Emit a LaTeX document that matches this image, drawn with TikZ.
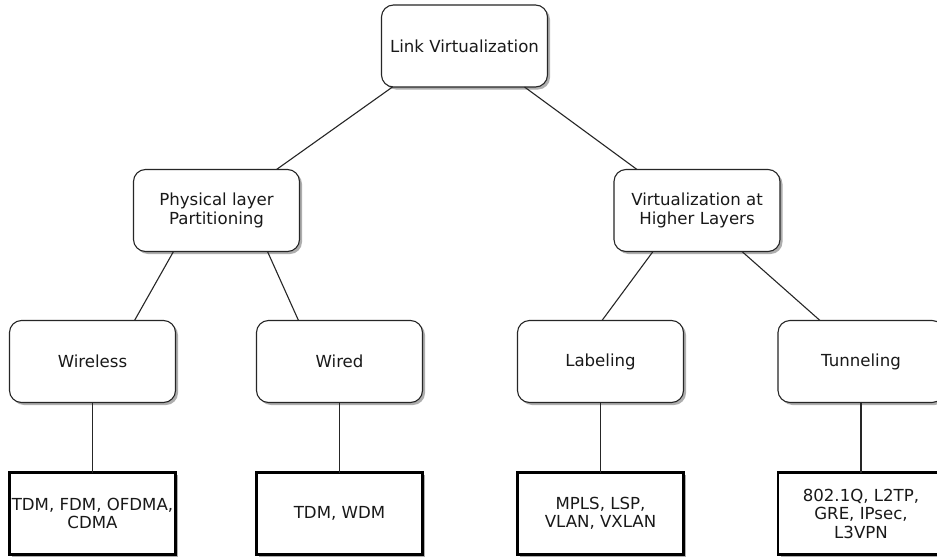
\documentclass[tikz,border=0pt]{standalone}
\usepackage{fontspec}
\setmainfont{DejaVu Sans}
\usetikzlibrary{shadows,calc}
\begin{document}
\begin{tikzpicture}[x=1pt,y=-1pt,
  rbox/.style={draw=black!85, line width=1.1pt, rounded corners=12pt, fill=white,
    minimum width=166pt, minimum height=82pt, inner sep=0pt, outer sep=0pt,
    align=center, text=black!90, font=\fontsize{16.6}{18.5}\selectfont,
    drop shadow={shadow xshift=2.5pt, shadow yshift=-2.5pt, fill=black!45, opacity=0.7}},
  sbox/.style={draw=black, line width=2.3pt, fill=white,
    minimum width=166pt, minimum height=82pt, inner sep=0pt, outer sep=0pt,
    align=center, text=black!90, font=\fontsize{16.6}{18.5}\selectfont,
    drop shadow={shadow xshift=2.5pt, shadow yshift=-2.5pt, fill=black!45, opacity=0.7}},
  link/.style={draw=black!85, line width=1.1pt}]
\useasboundingbox (0,0) rectangle (937,557);
\clip (0,0) rectangle (937,557);
\fill[white] (0,0) rectangle (937,557);

\node[rbox] (root) at (464.5,46) {Link Virtualization};
\node[rbox] (phys) at (216.5,210.5) {Physical layer\\Partitioning};
\node[rbox] (virt) at (697,210.5) {Virtualization at\\Higher Layers};
\node[rbox] (wireless) at (92.5,361.5) {Wireless};
\node[rbox] (wired) at (339.5,361.5) {Wired};
\node[rbox] (label) at (600.5,361.5) {Labeling};
\node[rbox] (tunnel) at (861,361.5) {Tunneling};
\node[sbox] (m1) at (92.5,513.5) {TDM, FDM, OFDMA,\\CDMA};
\node[sbox] (m2) at (339.5,513.5) {TDM, WDM};
\node[sbox] (m3) at (600.5,513.5) {MPLS, LSP,\\VLAN, VXLAN};
\node[sbox] (m4) at (861,513.5) {802.1Q, L2TP,\\GRE, IPsec,\\L3VPN};

\draw[link] ([xshift=11pt]root.south west) -- ([xshift=-23pt]phys.north east);
\draw[link] ([xshift=-23pt]root.south east) -- ([xshift=23pt]virt.north west);
\draw[link] ([xshift=40pt]phys.south west) -- ([xshift=42pt]wireless.north);
\draw[link] ([xshift=-32pt]phys.south east) -- ([xshift=-41pt]wired.north);
\draw[link] ([xshift=39pt]virt.south west) -- ([xshift=1.5pt]label.north);
\draw[link] ([xshift=-38pt]virt.south east) -- ([xshift=-41pt]tunnel.north);
\draw[link] (wireless.south) -- (m1.north);
\draw[link] (wired.south) -- (m2.north);
\draw[link] (label.south) -- (m3.north);
\draw[link] (tunnel.south) -- (m4.north);
\end{tikzpicture}
\end{document}
